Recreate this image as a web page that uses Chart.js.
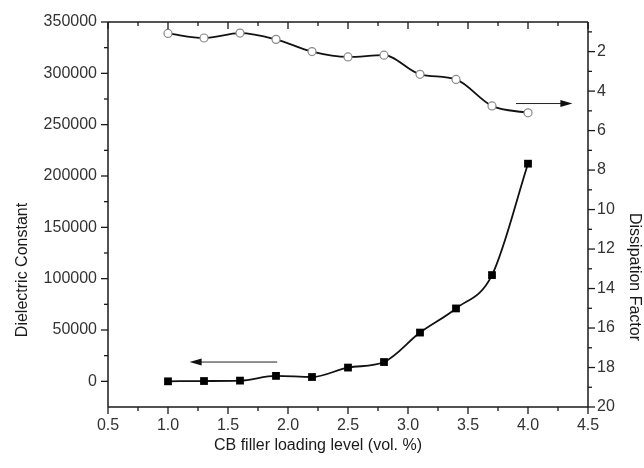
<!DOCTYPE html>
<html lang="en">
<head>
  <meta charset="UTF-8" />
  <title>Dielectric Constant and Dissipation Factor</title>
  <script src="https://cdn.jsdelivr.net/npm/chart.js"></script>
  <style>
    html, body { margin: 0; padding: 0; background: #fff; }
    #wrap { width: 644px; height: 468px; }
  </style>
</head>
<body>
  <div id="wrap">
    <canvas id="dielectricChart" width="644" height="468"></canvas>
  </div>

  <script>
    // CB filler loading (vol. %)
    const loading = [1.0, 1.3, 1.6, 1.9, 2.2, 2.5, 2.8, 3.1, 3.4, 3.7, 4.0];
    // Dielectric constant (left axis, filled squares)
    const dielectric = [0, 300, 700, 5300, 4200, 13400, 18800, 47500, 71000, 103500, 212000];
    // Dissipation factor (right axis, reversed, open circles)
    const dissipation = [1.08, 1.31, 1.06, 1.38, 2.0, 2.27, 2.18, 3.15, 3.41, 4.75, 5.1];

    // tick labels
    const xTicks = [0.5, 1.0, 1.5, 2.0, 2.5, 3.0, 3.5, 4.0, 4.5];
    const dcTicks = [0, 50000, 100000, 150000, 200000, 250000, 300000, 350000];
    const dfTicks = [2, 4, 6, 8, 10, 12, 14, 16, 18, 20];

    // arrows pointing at each curve's axis (data units)
    const dcArrow = { from: 1.91, to: 1.18, y: 18800 };
    const dfArrow = { from: 3.90, to: 4.37, y: 4.63 };

    const FONT = '"Liberation Sans", Arial, sans-serif';
    const INK = '#1a1a1a';
    const LABEL = '#333';

    // draws the box, major/minor ticks, arrows and axis titles
    const framePlugin = {
      id: 'frame',
      afterDraw(chart) {
        const { ctx, chartArea: a } = chart;
        const { x, y, y1 } = chart.scales;
        ctx.save();
        ctx.strokeStyle = INK;
        ctx.lineWidth = 1.5;

        const seg = (x0, y0, x2, y2) => {
          ctx.beginPath();
          ctx.moveTo(x0, y0);
          ctx.lineTo(x2, y2);
          ctx.stroke();
        };

        // box
        seg(a.left, a.top, a.right, a.top);
        seg(a.left, a.bottom, a.right, a.bottom);
        seg(a.left, a.top, a.left, a.bottom);
        seg(a.right, a.top, a.right, a.bottom);

        const MAJ = 7, MIN = 4;
        ctx.lineWidth = 1.3;

        // x: outward at bottom, inward at top
        xTicks.forEach((v, i) => {
          const px = x.getPixelForValue(v);
          seg(px, a.bottom, px, a.bottom + MAJ);
          seg(px, a.top, px, a.top + MAJ);
          if (i < xTicks.length - 1) {
            const mx = x.getPixelForValue((v + xTicks[i + 1]) / 2);
            seg(mx, a.bottom, mx, a.bottom + MIN);
            seg(mx, a.top, mx, a.top + MIN);
          }
        });

        // left axis, outward
        dcTicks.forEach((v, i) => {
          const py = y.getPixelForValue(v);
          seg(a.left - MAJ, py, a.left, py);
          const my = y.getPixelForValue(v - 25000);
          if (my <= a.bottom - 1) seg(a.left - MIN, my, a.left, my);
        });

        // right axis, outward
        dfTicks.forEach(v => {
          const py = y1.getPixelForValue(v);
          seg(a.right, py, a.right + MAJ, py);
          const my = y1.getPixelForValue(v - 1);
          seg(a.right, my, a.right + MIN, my);
        });

        // arrows
        const arrow = (x0, x2, py) => {
          ctx.lineWidth = 1;
          ctx.strokeStyle = '#222';
          ctx.fillStyle = '#111';
          const dir = Math.sign(x2 - x0);
          seg(x0, py, x2 - dir * 6, py);
          ctx.beginPath();
          ctx.moveTo(x2, py);
          ctx.lineTo(x2 - dir * 12, py - 3.5);
          ctx.lineTo(x2 - dir * 12, py + 3.5);
          ctx.closePath();
          ctx.fill();
        };
        const ly = y.getPixelForValue(dcArrow.y);
        arrow(x.getPixelForValue(dcArrow.from), x.getPixelForValue(dcArrow.to), ly);
        const ry = y1.getPixelForValue(dfArrow.y);
        arrow(x.getPixelForValue(dfArrow.from), x.getPixelForValue(dfArrow.to), ry);

        // axis titles
        ctx.fillStyle = INK;
        ctx.font = '16px ' + FONT;
        ctx.textAlign = 'center';
        ctx.textBaseline = 'middle';
        ctx.fillText('CB filler loading level (vol. %)', 318, 446);

        ctx.save();
        ctx.translate(23, 270);
        ctx.rotate(-Math.PI / 2);
        ctx.fillText('Dielectric Constant', 0, 0);
        ctx.restore();

        ctx.save();
        ctx.translate(634, 277);
        ctx.rotate(Math.PI / 2);
        ctx.fillText('Dissipation Factor', 0, 0);
        ctx.restore();

        ctx.restore();
      }
    };

    const setTicks = list => scale => {
      scale.ticks = list.map(v => ({ value: v }));
    };

    const ctx = document.getElementById('dielectricChart').getContext('2d');
    new Chart(ctx, {
      type: 'scatter',
      data: {
        datasets: [
          {
            label: 'Dielectric Constant',
            data: loading.map((v, i) => ({ x: v, y: dielectric[i] })),
            yAxisID: 'y',
            showLine: true,
            borderColor: '#111',
            borderWidth: 1.8,
            cubicInterpolationMode: 'monotone',
            pointStyle: 'rect',
            pointRadius: 5.5,
            pointBackgroundColor: '#000',
            pointBorderColor: '#000',
            pointBorderWidth: 0
          },
          {
            label: 'Dissipation Factor',
            data: loading.map((v, i) => ({ x: v, y: dissipation[i] })),
            yAxisID: 'y1',
            showLine: true,
            borderColor: '#111',
            borderWidth: 1.8,
            cubicInterpolationMode: 'monotone',
            pointStyle: 'circle',
            pointRadius: 4,
            pointBackgroundColor: '#fff',
            pointBorderColor: '#8a8a8a',
            pointBorderWidth: 1.2
          }
        ]
      },
      options: {
        responsive: false,
        animation: false,
        layout: { padding: { top: 22, left: 0, right: 0, bottom: 0 } },
        plugins: {
          legend: { display: false },
          tooltip: { enabled: false }
        },
        scales: {
          x: {
            type: 'linear',
            min: 0.5,
            max: 4.5,
            grid: { display: false, drawTicks: false },
            border: { display: false },
            afterBuildTicks: setTicks(xTicks),
            afterFit: s => { s.height = 61; },
            ticks: {
              padding: 9,
              color: LABEL,
              font: { family: FONT, size: 16 },
              callback: v => v.toFixed(1)
            }
          },
          y: {
            type: 'linear',
            position: 'left',
            min: -25000,
            max: 350000,
            grid: { display: false, drawTicks: false },
            border: { display: false },
            afterBuildTicks: setTicks(dcTicks),
            afterFit: s => { s.width = 108; },
            ticks: {
              padding: 11,
              color: LABEL,
              font: { family: FONT, size: 16 },
              callback: v => String(v)
            }
          },
          y1: {
            type: 'linear',
            position: 'right',
            reverse: true,
            min: 0.5,
            max: 20,
            grid: { display: false, drawTicks: false },
            border: { display: false },
            afterBuildTicks: setTicks(dfTicks),
            afterFit: s => { s.width = 56; },
            ticks: {
              padding: 9,
              color: LABEL,
              font: { family: FONT, size: 16 },
              callback: v => String(v)
            }
          }
        }
      },
      plugins: [framePlugin]
    });
  </script>
</body>
</html>
